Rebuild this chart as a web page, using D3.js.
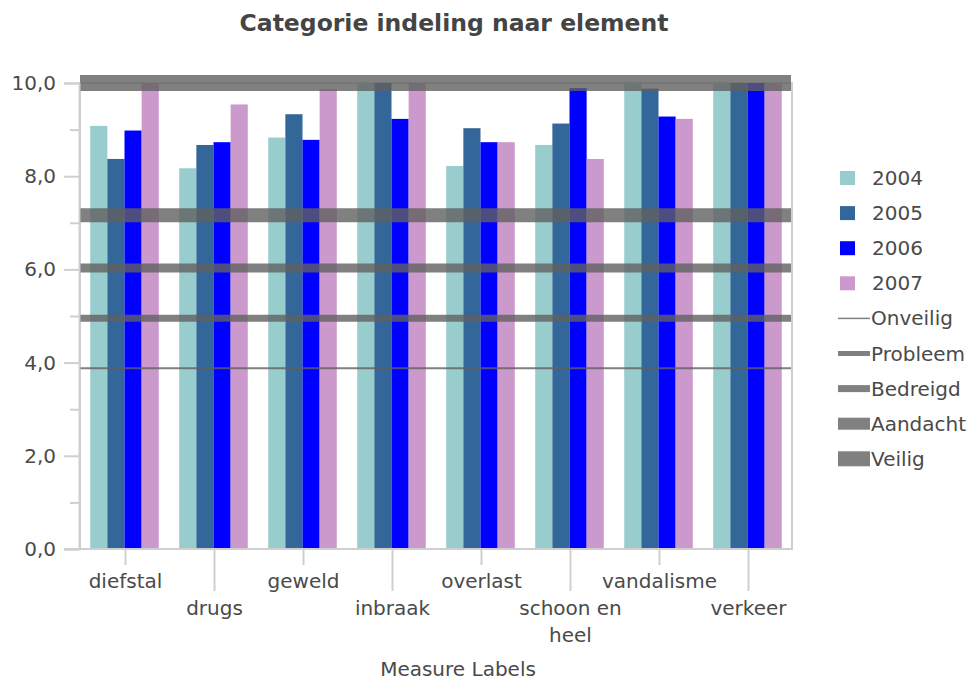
<!DOCTYPE html>
<html>
<head>
<meta charset="utf-8">
<script src="https://cdn.jsdelivr.net/npm/d3@7"></script>
<style>
  html, body { margin: 0; padding: 0; background: #fff; }
  svg { display: block; font-family: "DejaVu Sans", Verdana, sans-serif; }
</style>
</head>
<body>
<svg id="chart" width="970" height="681"></svg>
<script>
// ---------- data ----------
const categories = ["diefstal", "drugs", "geweld", "inbraak", "overlast", "schoon en heel", "vandalisme", "verkeer"];
const categoryLabelLines = [["diefstal"], ["drugs"], ["geweld"], ["inbraak"], ["overlast"], ["schoon en", "heel"], ["vandalisme"], ["verkeer"]];
const years = ["2004", "2005", "2006", "2007"];
const values2004 = [9.08, 8.17, 8.83, 10.0, 8.22, 8.67, 10.0, 10.0];
const values2005 = [8.37, 8.67, 9.33, 10.0, 9.03, 9.13, 9.88, 10.0];
const values2006 = [8.98, 8.73, 8.78, 9.23, 8.73, 9.89, 9.28, 10.0];
const values2007 = [10.0, 9.54, 9.87, 10.0, 8.73, 8.37, 9.23, 10.0];
const thresholdNames = ["Onveilig", "Probleem", "Bedreigd", "Aandacht", "Veilig"];
const thresholdValues = [3.88, 4.95, 6.03, 7.16, 10.0];
const yTicksMajor = [0, 2, 4, 6, 8, 10];
const yTicksMinor = [1, 3, 5, 7, 9];
const yTickLabels = ["0,0", "2,0", "4,0", "6,0", "8,0", "10,0"];
const titleText = "Categorie indeling naar element";
const xAxisTitle = "Measure Labels";

// ---------- styles ----------
const yearColors = ["#99cccc", "#336699", "#0000ff", "#cc99cc"];
const thresholdWidths = [2, 7, 9, 14, 16];
const legendLineWidths = [1.5, 5, 7, 12, 15];
const bandColor = "rgba(96,96,96,0.8)";
const axisColor = "#cfcfcf";
const textColor = "#4a4a4a";
const fontSize = 20;

const seriesValues = [values2004, values2005, values2006, values2007];

const svg = d3.select("#chart");
const margin = { left: 80, right: 178, top: 83, bottom: 132 };
const W = 970, H = 681;
const plotW = W - margin.left - margin.right;   // 712
const plotH = H - margin.top - margin.bottom;   // 466

const x0 = d3.scaleBand().domain(categories).range([margin.left, margin.left + plotW])
  .paddingInner(0.23).paddingOuter(0.115);
const x1 = d3.scaleBand().domain(years).range([0, x0.bandwidth()]).padding(0);
const y = d3.scaleLinear().domain([0, 10]).range([margin.top + plotH, margin.top]);

// title
svg.append("text").attr("x", 454).attr("y", 31).attr("text-anchor", "middle")
  .attr("font-size", 23.5).attr("font-weight", "bold").attr("fill", "#444")
  .text(titleText);

// frame
svg.append("rect").attr("x", margin.left).attr("y", margin.top)
  .attr("width", plotW).attr("height", plotH)
  .attr("fill", "none").attr("stroke", axisColor).attr("stroke-width", 2);

// bars
const groups = svg.append("g").selectAll("g").data(categories).join("g")
  .attr("transform", d => `translate(${x0(d)},0)`);
groups.selectAll("rect").data((d, i) => years.map((yr, j) => ({ yr, j, v: seriesValues[j][i] })))
  .join("rect")
  .attr("x", d => x1(d.yr)).attr("width", x1.bandwidth())
  .attr("y", d => y(d.v)).attr("height", d => y(0) - y(d.v))
  .attr("fill", d => yearColors[d.j]);

// threshold bands
svg.append("g").selectAll("line").data(thresholdValues).join("line")
  .attr("x1", margin.left).attr("x2", margin.left + plotW - 1)
  .attr("y1", d => y(d)).attr("y2", d => y(d))
  .attr("stroke", bandColor)
  .attr("stroke-width", (d, i) => thresholdWidths[i]);

// y axis
const yAxis = d3.axisLeft(y).tickValues(yTicksMajor).tickSize(15).tickPadding(8)
  .tickFormat((d, i) => yTickLabels[i]);
const gy = svg.append("g").attr("transform", `translate(${margin.left - 1},0)`).call(yAxis);
gy.select(".domain").attr("stroke", axisColor).attr("stroke-width", 2);
gy.selectAll(".tick line").attr("stroke", axisColor).attr("stroke-width", 2);
gy.selectAll(".tick text").attr("font-size", fontSize).attr("fill", textColor)
  .attr("font-family", "DejaVu Sans, sans-serif");
const gyMinor = svg.append("g").attr("transform", `translate(${margin.left - 1},0)`)
  .call(d3.axisLeft(y).tickValues(yTicksMinor).tickSize(9).tickFormat(""));
gyMinor.select(".domain").remove();
gyMinor.selectAll(".tick line").attr("stroke", axisColor).attr("stroke-width", 2);

// x axis
const xAxisG = svg.append("g").attr("transform", `translate(0,${margin.top + plotH})`);
xAxisG.append("line").attr("x1", margin.left - 15).attr("x2", margin.left + plotW + 1)
  .attr("y1", 0).attr("y2", 0).attr("stroke", axisColor).attr("stroke-width", 2);
const xt = xAxisG.selectAll("g.xt").data(categories).join("g").attr("class", "xt")
  .attr("transform", d => `translate(${x0(d) + x0.bandwidth() / 2 + 1},0)`);
xt.append("line").attr("y1", 0).attr("y2", (d, i) => i % 2 === 0 ? 16 : 42)
  .attr("stroke", axisColor).attr("stroke-width", 2);
xt.each(function (d, i) {
  const g = d3.select(this);
  const lines = categoryLabelLines[i];
  const baseY = i % 2 === 0 ? 39 : 66;
  lines.forEach((ln, k) => {
    g.append("text").attr("y", baseY + k * 27).attr("text-anchor", "middle")
      .attr("font-size", fontSize).attr("fill", textColor).text(ln);
  });
});
svg.append("text").attr("x", 458).attr("y", 676)
  .attr("text-anchor", "middle").attr("font-size", fontSize).attr("fill", textColor).text(xAxisTitle);

// legend
const legend = svg.append("g");
const rowY = i => 178 + i * 35.1;
years.forEach((yr, j) => {
  legend.append("rect").attr("x", 840).attr("y", rowY(j) - 7).attr("width", 15).attr("height", 14)
    .attr("fill", yearColors[j]);
  legend.append("text").attr("x", 872).attr("y", rowY(j) + 7).attr("font-size", fontSize)
    .attr("fill", textColor).text(yr);
});
thresholdNames.forEach((nm, i) => {
  const yy = rowY(years.length + i);
  legend.append("line").attr("x1", 838).attr("x2", 870).attr("y1", yy).attr("y2", yy)
    .attr("stroke", bandColor).attr("stroke-width", legendLineWidths[i]);
  legend.append("text").attr("x", 871).attr("y", yy + 7).attr("font-size", fontSize)
    .attr("fill", textColor).text(nm);
});
</script>
</body>
</html>
